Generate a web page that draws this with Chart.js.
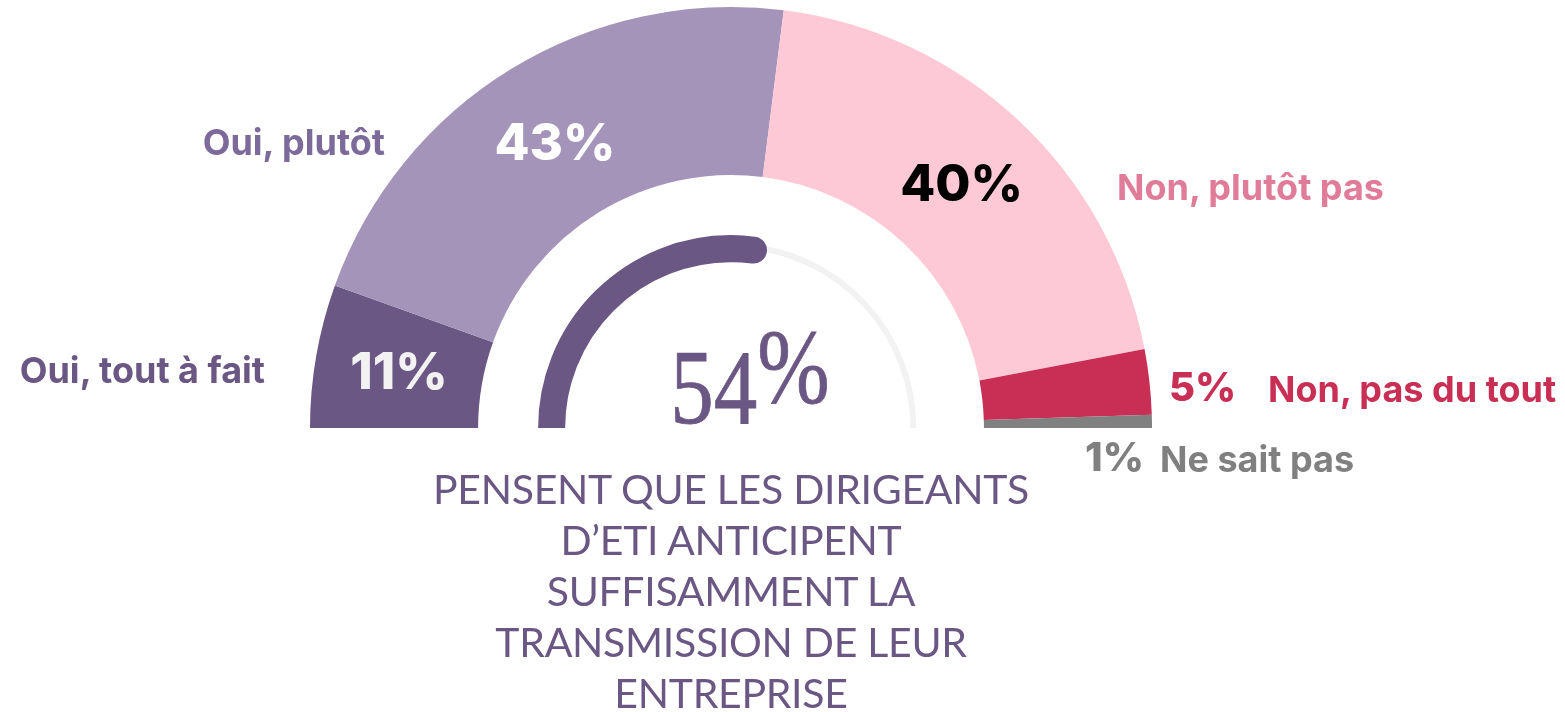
<!DOCTYPE html>
<html lang="fr">
<head>
<meta charset="utf-8">
<title>Transmission des ETI</title>
<script src="https://cdn.jsdelivr.net/npm/chart.js@4.4.1/dist/chart.umd.min.js"></script>
<style>
    html, body { margin: 0; padding: 0; background: #ffffff; }
    #wrap { position: relative; width: 1565px; height: 712px; overflow: hidden; }
    #gaugeChart { position: absolute; left: 0; top: 0; }
    .lbl {
        position: absolute;
        font-family: Inter, 'Noto Sans', sans-serif;
        font-weight: 700;
        font-size: 36px;
        line-height: 36px;
        white-space: nowrap;
    }
    .val { font-weight: 800; font-size: 40px; line-height: 40px; }
    #bigValue {
        position: absolute;
        left: 550px;
        top: 335px;
        width: 400px;
        text-align: center;
        font-family: 'Liberation Serif', 'DejaVu Serif', serif;
        font-size: 106px;
        line-height: 105px;
        color: #6b5784;
        transform: scaleX(0.82);
        transform-origin: center;
        -webkit-text-stroke: 0.8px #6b5784;
    }
    #bigValue .pct { position: relative; top: -20px; }
    #subtitle {
        position: absolute;
        left: 331px;
        top: 463px;
        width: 800px;
        text-align: center;
        font-family: Lato, 'Open Sans', sans-serif;
        font-weight: 400;
        font-size: 41px;
        line-height: 51px;
        letter-spacing: -0.3px;
        color: #6b5784;
    }
</style>
</head>
<body>
<div id="wrap">
    <canvas id="gaugeChart" width="1565" height="712"></canvas>
    <div id="bigValue"></div>
    <div id="subtitle">PENSENT QUE LES DIRIGEANTS<br>D’ETI ANTICIPENT<br>SUFFISAMMENT LA<br>TRANSMISSION DE LEUR<br>ENTREPRISE</div>
</div>
<script>
// Survey answers (outer half ring)
const categories = ['Oui, tout à fait', 'Oui, plutôt', 'Non, plutôt pas', 'Non, pas du tout', 'Ne sait pas'];
const values = [11, 43, 40, 5, 1];
const sliceColors = ['#6b5784', '#a594b9', '#fec9d6', '#c92e55', '#808080'];

// Inner gauge
const gaugeValue = 54;
const gaugeMax = 100;

// Where the category names sit around the ring
const categoryLayout = [
    { right: 1300, top: 352, color: '#6b5784' },
    { right: 1180, top: 124, color: '#7c6a9b' },
    { left: 1117, top: 169, color: '#e07c98' },
    { left: 1268, top: 371, color: '#c92e55' },
    { left: 1160, top: 441, color: '#808080' }
];

// Value labels: first three drawn inside the slices, last two placed outside
const insideLabelColors = ['#f2f2f2', '#ffffff', '#000000'];
const outsideLabelLayout = {
    3: { left: 1169, top: 367, color: '#c92e55' },
    4: { left: 1085, top: 437, color: '#808080' }
};

document.addEventListener('DOMContentLoaded', function() {
    buildTextLabels();
    initializeChart();
});

function placeLabel(text, pos, extraClass) {
    const el = document.createElement('div');
    el.className = 'lbl' + (extraClass ? ' ' + extraClass : '');
    el.textContent = text;
    el.style.color = pos.color;
    el.style.top = pos.top + 'px';
    if (pos.left !== undefined) el.style.left = pos.left + 'px';
    if (pos.right !== undefined) el.style.right = pos.right + 'px';
    document.getElementById('wrap').appendChild(el);
}

function buildTextLabels() {
    categories.forEach((name, i) => placeLabel(name, categoryLayout[i]));
    Object.keys(outsideLabelLayout).forEach(i => {
        placeLabel(values[i] + '%', outsideLabelLayout[i], 'val');
    });

    const big = document.getElementById('bigValue');
    big.innerHTML = gaugeValue + '<span class="pct">%</span>';
}

// Gauge: thin grey track for the rest, thick round-capped stroke for the value.
// Both follow the arc elements of dataset 2; clipped at the ring's base line.
const gaugeStroke = {
    id: 'gaugeStroke',
    beforeDatasetsDraw(chart) {
        const meta = chart.getDatasetMeta(2);
        const done = meta.data[0];
        const rest = meta.data[1];
        if (!done || !rest) return;
        const a = done.getProps(['x', 'y', 'startAngle', 'endAngle', 'innerRadius', 'outerRadius'], true);
        const b = rest.getProps(['startAngle', 'endAngle'], true);
        const mid = (a.innerRadius + a.outerRadius) / 2;
        const ctx = chart.ctx;

        ctx.save();
        ctx.beginPath();
        ctx.rect(0, 0, chart.width, a.y);
        ctx.clip();

        ctx.beginPath();
        ctx.arc(a.x, a.y, mid + 3, b.startAngle - 0.05, b.endAngle);
        ctx.lineWidth = 6;
        ctx.strokeStyle = '#f2f2f2';
        ctx.stroke();

        ctx.beginPath();
        ctx.arc(a.x, a.y, mid, a.startAngle, a.endAngle);
        ctx.lineWidth = a.outerRadius - a.innerRadius;
        ctx.lineCap = 'round';
        ctx.strokeStyle = '#6b5784';
        ctx.stroke();
        ctx.restore();
    }
};

// Percentages written in the middle of the big slices
const sliceValueLabels = {
    id: 'sliceValueLabels',
    afterDatasetsDraw(chart) {
        const meta = chart.getDatasetMeta(0);
        const ctx = chart.ctx;
        ctx.save();
        ctx.font = '800 51px Inter, sans-serif';
        ctx.textAlign = 'center';
        ctx.textBaseline = 'alphabetic';
        insideLabelColors.forEach((color, i) => {
            const pos = meta.data[i].tooltipPosition(true);
            ctx.fillStyle = color;
            ctx.fillText(values[i] + '%', pos.x, pos.y + 19);
        });
        ctx.restore();
    }
};

function initializeChart() {
    const ctx = document.getElementById('gaugeChart');
    if (!ctx) return;

    const data = {
        labels: categories,
        datasets: [
            {
                data: values,
                backgroundColor: sliceColors,
                borderWidth: 0,
                weight: 168
            },
            {
                // empty band between the ring and the gauge
                data: [gaugeMax],
                backgroundColor: ['rgba(0,0,0,0)'],
                borderWidth: 0,
                weight: 60
            },
            {
                // painted by the gaugeStroke plugin
                data: [gaugeValue, gaugeMax - gaugeValue],
                backgroundColor: ['rgba(0,0,0,0)', 'rgba(0,0,0,0)'],
                borderWidth: 0,
                weight: 27
            }
        ]
    };

    new Chart(ctx, {
        type: 'doughnut',
        data: data,
        options: {
            responsive: false,
            animation: false,
            events: [],
            rotation: -90,
            circumference: 180,
            cutout: '39.4%',
            layout: {
                padding: { left: 310, right: 413, top: 7, bottom: 284 }
            },
            plugins: {
                legend: { display: false },
                tooltip: { enabled: false }
            }
        },
        plugins: [gaugeStroke, sliceValueLabels]
    });
}
</script>
</body>
</html>
